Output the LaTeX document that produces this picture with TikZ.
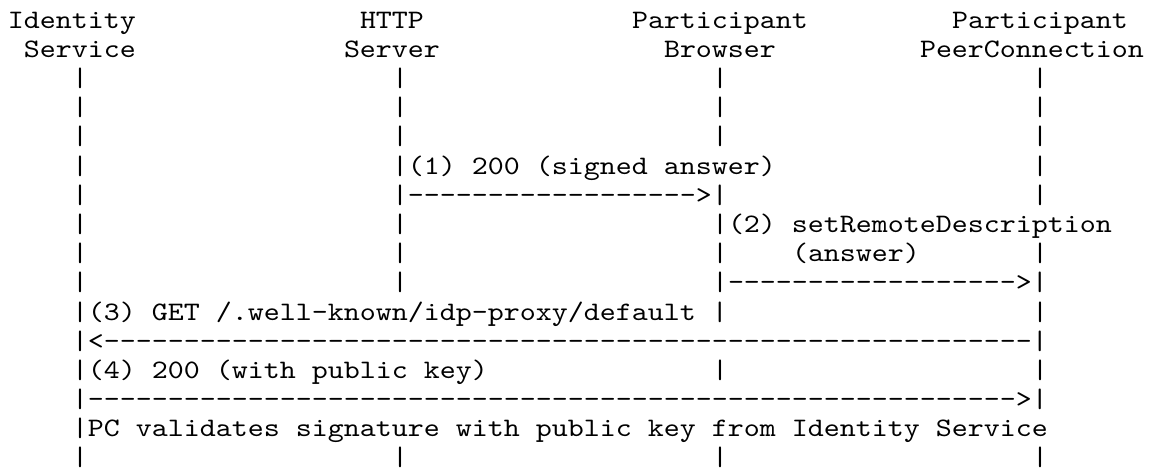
\documentclass[tikz,border=0pt]{standalone}
\usepackage{fontspec}
% slab-serif typewriter face (10pt design), widened to a 0.6em cell
\setmonofont[FakeStretch=1.142857]{lmmono10-regular.otf}
% runs of hyphens for the ASCII arrows
\newcommand\dashten{----------}
\newcommand\dasheight{--------}
% place a text run at a character column and a text row
\newcommand\cellat[4]{\node[glyphs] (#1) at ({8+16*#2},{28.3+29.17*#3}) {#4};}
\begin{document}
\begin{tikzpicture}[x=0.5pt,y=-0.5pt,
  glyphs/.style={anchor=base west,inner sep=0pt,outer sep=0pt,
    font=\fontsize{13.33pt}{16pt}\selectfont\ttfamily}]
\useasboundingbox (0,0) rectangle (1152,471);

% header
\cellat{idA}{0}{0}{Identity}
\cellat{httpA}{22}{0}{HTTP}
\cellat{brA}{39}{0}{Participant}
\cellat{pcA}{59}{0}{Participant}
\cellat{idB}{1}{1}{Service}
\cellat{httpB}{21}{1}{Server}
\cellat{brB}{41}{1}{Browser}
\cellat{pcB}{57}{1}{PeerConnection}

% plain lifeline rows
\foreach \r in {2,3,4,15}{
  \foreach \c/\n in {4/id,24/http,44/br,64/pc}{
    \cellat{bar-\n-\r}{\c}{\r}{|}
  }
}

% (1) answer from the HTTP server
\cellat{bar-id-5}{4}{5}{|}
\cellat{msgA}{24}{5}{|(1) 200 (signed answer)}
\cellat{bar-pc-5}{64}{5}{|}
\cellat{bar-id-6}{4}{6}{|}
\cellat{arrA}{24}{6}{|\dashten\dasheight>|}
\cellat{bar-pc-6}{64}{6}{|}

% (2) setRemoteDescription
\cellat{bar-id-7}{4}{7}{|}
\cellat{bar-http-7}{24}{7}{|}
\cellat{msgB}{44}{7}{|(2) setRemoteDescription}
\cellat{bar-id-8}{4}{8}{|}
\cellat{bar-http-8}{24}{8}{|}
\cellat{bar-br-8}{44}{8}{|}
\cellat{msgBb}{49}{8}{(answer)}
\cellat{bar-pc-8}{64}{8}{|}
\cellat{bar-id-9}{4}{9}{|}
\cellat{bar-http-9}{24}{9}{|}
\cellat{arrB}{44}{9}{|\dashten\dasheight>|}

% (3) fetch of the IdP proxy
\cellat{msgC}{4}{10}{|(3) GET /.well-known/idp-proxy/default |}
\cellat{bar-pc-10}{64}{10}{|}
\cellat{arrC}{4}{11}{|<\dashten\dashten\dashten\dashten\dashten\dasheight|}

% (4) reply with the public key
\cellat{msgD}{4}{12}{|(4) 200 (with public key)}
\cellat{bar-br-12}{44}{12}{|}
\cellat{bar-pc-12}{64}{12}{|}
\cellat{arrD}{4}{13}{|\dashten\dashten\dashten\dashten\dashten\dasheight>|}

% validation step
\cellat{msgE}{4}{14}{|PC validates signature with public key from Identity Service}
\end{tikzpicture}
\end{document}
